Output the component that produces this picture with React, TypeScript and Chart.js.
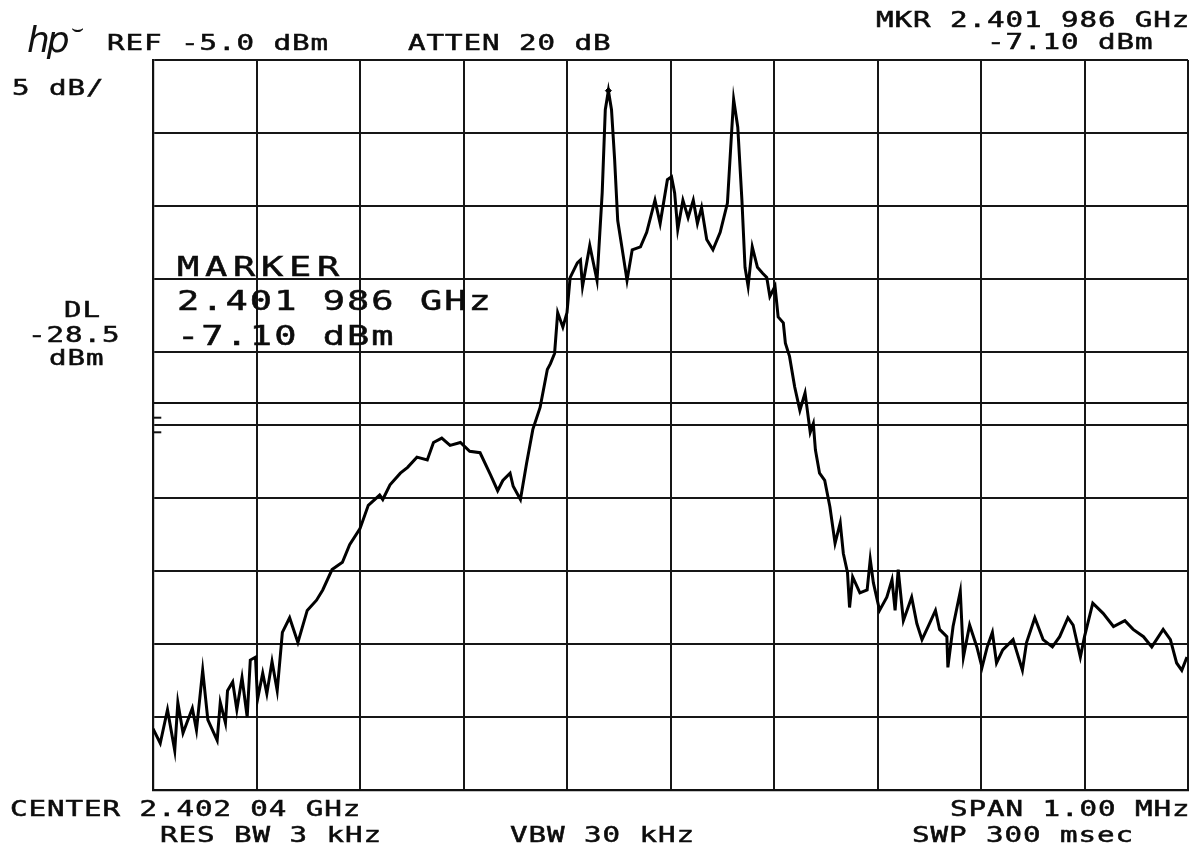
import React, { useEffect, useRef } from "react";
import { Chart, registerables } from "chart.js";

Chart.register(...registerables);

// Frequency offset from CENTER 2.402 04 GHz, in kHz (span 1.00 MHz)
const freqKHz = [
  -500, -493, -486, -479, -476, -471, -462, -458, -452, -447, -438, -435, -430, -428, -423, -419,
  -414, -409, -406, -401, -399, -394, -390, -385, -380, -375, -368, -360, -351, -342, -336, -327,
  -317, -310, -300, -292, -281, -278, -271, -261, -254, -245, -235, -229, -221, -213, -203, -194,
  -184, -174, -167, -162, -155, -152, -145, -139, -133, -126, -119, -116, -112, -109, -104, -100,
  -97, -90, -87, -85, -78, -71, -66, -63, -60, -57, -54, -51, -47, -42, -37, -29,
  -23, -15, -10, -3, 1, 4, 7, 12, 17, 22, 26, 30, 35, 41, 48, 55,
  59, 61, 65, 69, 72, 75, 79, 84, 89, 93, 96, 101, 104, 109, 111, 115,
  120, 125, 130, 135, 138, 140, 144, 149, 154, 159, 164, 167, 171, 173, 176, 183,
  190, 193, 196, 202, 209, 214, 217, 220, 225, 233, 238, 243, 249, 256, 260, 267,
  268, 273, 280, 283, 289, 296, 301, 306, 311, 315, 321, 331, 340, 344, 352, 360,
  369, 376, 384, 389, 396, 400, 408, 418, 428, 439, 447, 457, 465, 476, 483, 489,
  494, 499,
];

// Measured level, dBm
const levelDbm = [
  -50.8, -51.8, -49.5, -52.3, -49.0, -51.1, -49.4, -50.9, -46.8, -50.2, -51.6, -49.0, -50.4, -48.2, -47.6, -49.5,
  -47.3, -50.0, -46.1, -45.9, -48.8, -47.0, -48.4, -46.2, -48.2, -44.2, -43.2, -44.9, -42.7, -42.0, -41.3, -39.9,
  -39.4, -38.2, -37.1, -35.5, -34.8, -35.1, -34.1, -33.3, -32.9, -32.2, -32.4, -31.2, -30.9, -31.4, -31.2, -31.8,
  -31.9, -33.4, -34.5, -33.8, -33.3, -34.2, -35.1, -32.6, -30.3, -28.8, -26.2, -25.8, -25.1, -22.3, -23.3, -22.3,
  -19.9, -18.9, -18.7, -20.5, -17.7, -20.1, -14.1, -8.4, -7.1, -8.4, -11.8, -16.0, -17.8, -20.1, -18.0, -17.8,
  -16.8, -14.6, -16.2, -13.2, -13.0, -14.1, -16.6, -14.6, -15.8, -14.6, -16.2, -15.1, -17.3, -18.0, -16.8, -14.8,
  -10.0, -7.7, -9.6, -14.6, -19.2, -20.5, -17.8, -19.2, -19.6, -19.9, -21.2, -20.5, -22.6, -23.0, -24.4, -25.3,
  -27.4, -29.0, -27.8, -30.5, -29.9, -31.7, -33.3, -33.8, -35.6, -38.1, -36.7, -38.8, -40.1, -42.5, -40.4, -41.5,
  -41.3, -39.2, -40.8, -42.7, -41.8, -40.6, -42.7, -39.9, -43.4, -41.8, -43.6, -44.7, -43.8, -42.7, -44.0, -44.5,
  -46.6, -43.8, -41.4, -45.9, -43.7, -45.2, -46.6, -45.2, -44.2, -46.3, -45.4, -44.7, -46.8, -44.9, -43.2, -44.7,
  -45.2, -44.5, -43.2, -43.7, -45.9, -44.5, -42.2, -42.9, -43.8, -43.4, -44.0, -44.5, -45.2, -44.0, -44.7, -46.3,
  -46.8, -45.9,
];

const refLevelDbm = -5;
const dbPerDiv = 5;
const verticalDivs = 10;
const halfSpanKHz = 500;
const freqStepKHz = 100;
const displayLineDbm = -28.5;
const thresholdTickDbm = [-29.5, -30.5];
const thresholdTickLenKHz = 8;
const markerFreqKHz = -60;
const markerDbm = -7.1;

type TxtProps = { x: number; capTop: number; cap: number; pitch: number; sx: number; text: string };

function Txt({ x, capTop, cap, pitch, sx, text }: TxtProps) {
  const fs = cap / 0.729;
  const ls = pitch / sx - 0.602 * fs;
  return (
    <div
      style={{
        position: "absolute",
        left: x,
        top: capTop - 0.117 * fs,
        fontFamily: "'DejaVu Sans Mono', monospace",
        fontSize: fs,
        lineHeight: `${fs}px`,
        letterSpacing: `${ls}px`,
        whiteSpace: "pre",
        color: "#0c0c0c",
        transform: `scaleX(${sx})`,
        transformOrigin: "left top",
        WebkitTextStroke: "0.5px #0c0c0c",
      }}
    >
      {text}
    </div>
  );
}

const S = { cap: 15, pitch: 18.5, sx: 1.42 };
const B = { cap: 20, pitch: 24.3, sx: 1.35 };

export default function App() {
  const ref = useRef<HTMLCanvasElement>(null);

  useEffect(() => {
    if (!ref.current) return;
    const bottomDbm = refLevelDbm - dbPerDiv * verticalDivs;
    const chart = new Chart(ref.current, {
      type: "line",
      data: {
        datasets: [
          {
            data: freqKHz.map((f, i) => ({ x: f, y: levelDbm[i] })),
            borderColor: "#000",
            borderWidth: 3,
            pointRadius: 0,
            tension: 0,
          },
          {
            data: [
              { x: -halfSpanKHz, y: displayLineDbm },
              { x: halfSpanKHz, y: displayLineDbm },
            ],
            borderColor: "#111",
            borderWidth: 2,
            pointRadius: 0,
          },
          ...thresholdTickDbm.map((v) => ({
            data: [
              { x: -halfSpanKHz, y: v },
              { x: -halfSpanKHz + thresholdTickLenKHz, y: v },
            ],
            borderColor: "#111",
            borderWidth: 2,
            pointRadius: 0,
          })),
          {
            data: [{ x: markerFreqKHz, y: markerDbm }],
            borderColor: "#000",
            backgroundColor: "#000",
            pointRadius: 3,
            pointStyle: "rectRot",
            showLine: false,
          },
        ],
      },
      options: {
        responsive: false,
        animation: false,
        devicePixelRatio: 1,
        layout: { padding: { left: 153, right: 12, top: 60, bottom: 62 } },
        plugins: { legend: { display: false }, tooltip: { enabled: false } },
        scales: {
          x: {
            type: "linear",
            min: -halfSpanKHz,
            max: halfSpanKHz,
            ticks: { display: false, stepSize: freqStepKHz },
            grid: { color: "#161616", lineWidth: 2, drawTicks: false },
            border: { color: "#111", width: 2.2 },
          },
          y: {
            type: "linear",
            min: bottomDbm,
            max: refLevelDbm,
            ticks: { display: false, stepSize: dbPerDiv },
            grid: { color: "#161616", lineWidth: 2, drawTicks: false },
            border: { color: "#111", width: 2.2 },
          },
        },
      },
    });
    return () => chart.destroy();
  }, []);

  return (
    <div style={{ position: "fixed", left: 0, top: 0, width: 1200, height: 852, background: "#fff", overflow: "hidden" }}>
      <canvas ref={ref} width={1200} height={852} style={{ position: "absolute", left: 0, top: 0 }} />
      <div
        style={{
          position: "absolute",
          left: 27,
          top: 22,
          fontFamily: "'DejaVu Sans', sans-serif",
          fontStyle: "italic",
          fontSize: 36,
          lineHeight: "36px",
          color: "#111",
          letterSpacing: "-3px",
        }}
      >
        hp
      </div>
      <div
        style={{
          position: "absolute",
          left: 71,
          top: 18,
          fontFamily: "'DejaVu Sans', sans-serif",
          fontSize: 20,
          lineHeight: "20px",
          color: "#111",
        }}
      >
        ⌣
      </div>
      <Txt x={107} capTop={35} {...S} text="REF -5.0 dBm" />
      <Txt x={408} capTop={35} {...S} text="ATTEN 20 dB" />
      <Txt x={876} capTop={12} {...S} text="MKR 2.401 986 GHz" />
      <Txt x={987} capTop={34} {...S} text="-7.10 dBm" />
      <Txt x={12} capTop={80} {...S} text="5 dB/" />
      <Txt x={64} capTop={302} {...S} text="DL" />
      <Txt x={28} capTop={327} {...S} text="-28.5" />
      <Txt x={49} capTop={350} {...S} text="dBm" />
      <Txt x={177} capTop={256} cap={20} pitch={28} sx={1.35} text="MARKER" />
      <Txt x={177} capTop={290} {...B} text="2.401 986 GHz" />
      <Txt x={177} capTop={325} {...B} text="-7.10 dBm" />
      <Txt x={10} capTop={801} {...S} text="CENTER 2.402 04 GHz" />
      <Txt x={160} capTop={827} {...S} text="RES BW 3 kHz" />
      <Txt x={510} capTop={827} {...S} text="VBW 30 kHz" />
      <Txt x={950} capTop={801} {...S} text="SPAN 1.00 MHz" />
      <Txt x={912} capTop={827} {...S} text="SWP 300 msec" />
    </div>
  );
}
